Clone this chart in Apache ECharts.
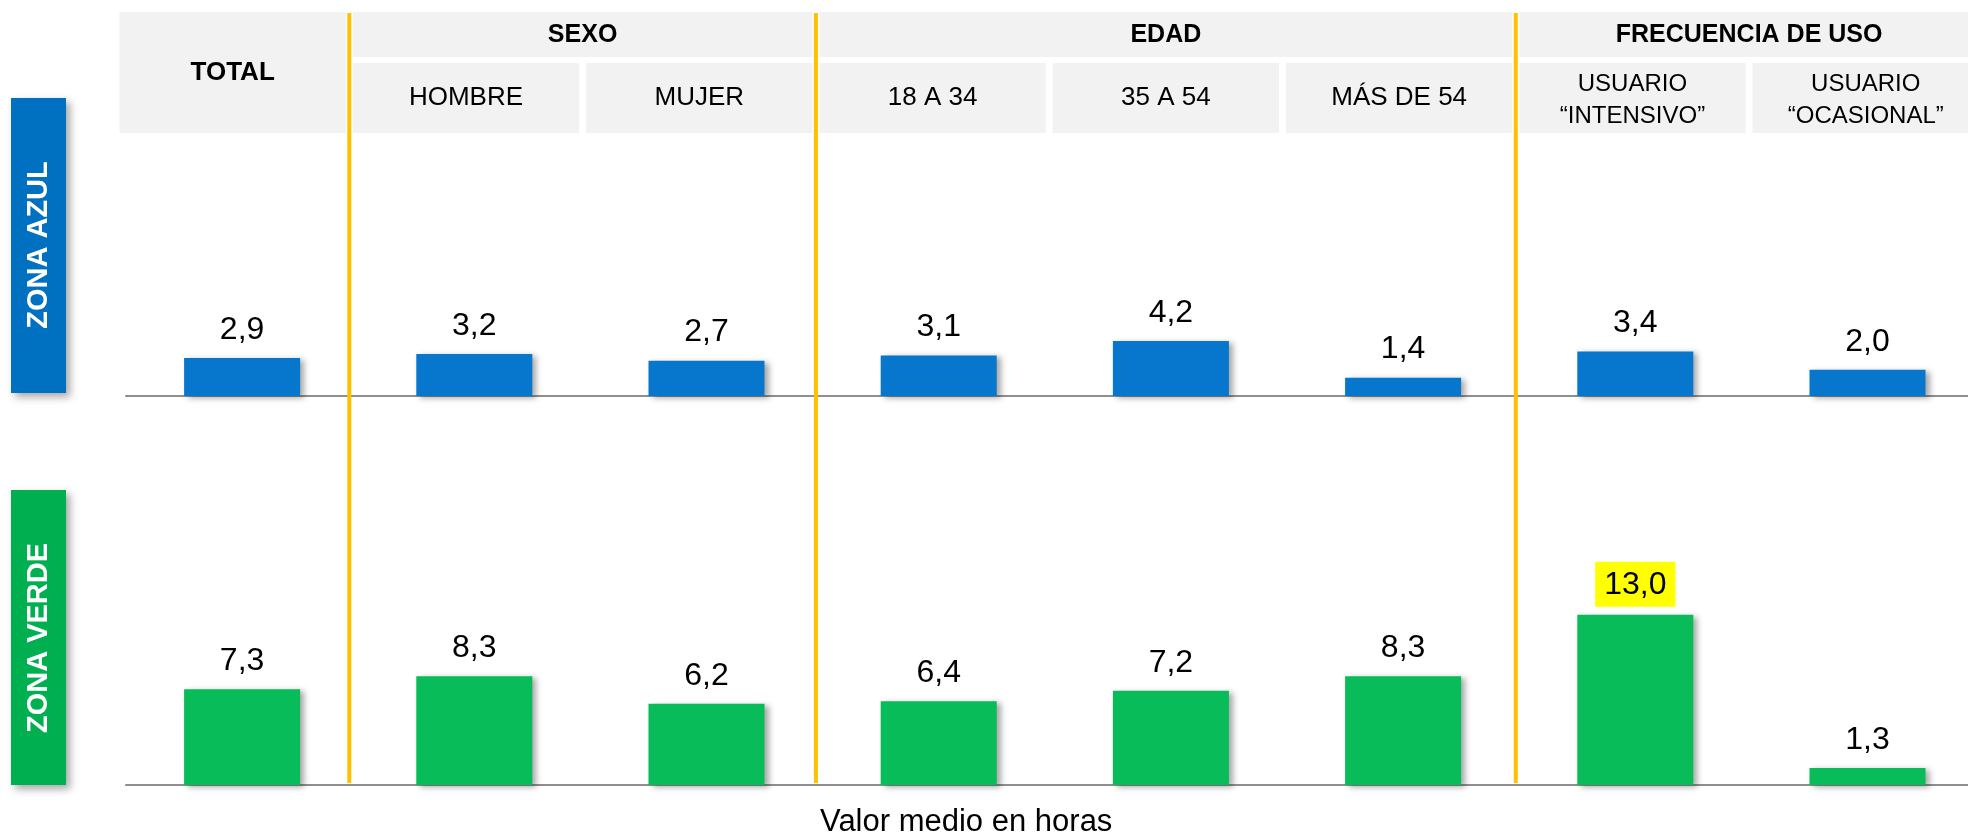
<!DOCTYPE html>
<html>
<head>
<meta charset="utf-8">
<title>Zona azul / zona verde</title>
<script src="https://cdn.jsdelivr.net/npm/echarts@6/dist/echarts.min.js"></script>
<style>
  html, body { margin: 0; padding: 0; background: #fff; }
  #chart { width: 1968px; height: 835px; }
</style>
</head>
<body>
<div id="chart"></div>
<script>
// datos
const categorias = ['TOTAL', 'HOMBRE', 'MUJER', '18 A 34', '35 A 54', 'MÁS DE 54', 'USUARIO\n“INTENSIVO”', 'USUARIO\n“OCASIONAL”'];
const grupos = ['SEXO', 'EDAD', 'FRECUENCIA DE USO'];
const grupoDesde = [1, 3, 6];
const grupoHasta = [2, 5, 7];
const separadores = [1, 3, 6];
const azul = [2.9, 3.2, 2.7, 3.1, 4.2, 1.4, 3.4, 2.0];
const verde = [7.3, 8.3, 6.2, 6.4, 7.2, 8.3, 13.0, 1.3];
const destacadoVerde = 6;

const FONT = '"Liberation Sans", Arial, sans-serif';
const chart = echarts.init(document.getElementById('chart'));

const fmt = p => p.value.toFixed(1).replace('.', ',');

function renderCelda(params, api) {
  const i = params.dataIndex;
  const cx = api.coord([i, 0])[0];
  const bw = api.size([1, 0])[0];
  const total = i === 0;
  const y0 = api.coord([0, total ? 0 : 51])[1];
  const y1 = api.coord([0, 121])[1];
  const dosLineas = categorias[i].indexOf('\n') >= 0;
  const font = total ? 'bold 26px ' + FONT : (dosLineas ? '24px ' : '26px ') + FONT;
  return {
    type: 'group',
    children: [
      {type: 'rect', shape: {x: cx - bw / 2 + 3.5, y: y0, width: bw - 7, height: y1 - y0}, style: {fill: '#F2F2F2'}},
      {type: 'text', x: cx, y: (y0 + y1) / 2 + (dosLineas ? 2 : 0),
        style: {text: categorias[i], font: font, fill: '#000', lineHeight: 32,
          align: 'center', verticalAlign: 'middle', textAlign: 'center', textVerticalAlign: 'middle'}}
    ]
  };
}

function renderGrupo(params, api) {
  const g = params.dataIndex;
  const bw = api.size([1, 0])[0];
  const x0 = api.coord([grupoDesde[g], 0])[0] - bw / 2 + 3.5;
  const x1 = api.coord([grupoHasta[g], 0])[0] + bw / 2 - 3.5;
  const y0 = api.coord([0, 0])[1];
  const y1 = api.coord([0, 45])[1];
  return {
    type: 'group',
    children: [
      {type: 'rect', shape: {x: x0, y: y0, width: x1 - x0, height: y1 - y0}, style: {fill: '#F2F2F2'}},
      {type: 'text', x: (x0 + x1) / 2, y: (y0 + y1) / 2 + 1,
        style: {text: grupos[g], font: 'bold 25px ' + FONT, fill: '#000',
          align: 'center', verticalAlign: 'middle', textAlign: 'center', textVerticalAlign: 'middle'}}
    ]
  };
}

function renderSeparador(params, api) {
  const k = separadores[params.dataIndex];
  const bw = api.size([1, 0])[0];
  const x = api.coord([k, 0])[0] - bw / 2;
  return {
    type: 'line',
    shape: {x1: x, y1: api.coord([0, 1])[1], x2: x, y2: api.coord([0, 771])[1]},
    style: {stroke: '#FFC000', lineWidth: 4}
  };
}

const ejeX = idx => ({
  gridIndex: idx, type: 'category', data: categorias,
  axisLine: {lineStyle: {color: '#8f8f8f', width: 2}},
  axisTick: {show: false}, axisLabel: {show: false}
});
const ejeY = idx => ({gridIndex: idx, type: 'value', min: 0, max: 20, show: false, splitLine: {show: false}});

const sombra = {shadowColor: 'rgba(0,0,0,0.35)', shadowBlur: 6, shadowOffsetX: 4, shadowOffsetY: 2};
const etiqueta = {
  show: true, position: 'top', distance: 12, formatter: fmt,
  fontSize: 32, fontFamily: FONT, color: '#000'
};

const option = {
  animation: false,
  backgroundColor: '#fff',
  title: {
    text: 'Valor medio en horas', left: 815, top: 802,
    textStyle: {fontSize: 31, fontWeight: 'normal', fontFamily: FONT, color: '#000'}
  },
  grid: [
    {left: 116, top: 12, width: 1866.4, height: 773, outerBoundsMode: 'none'},
    {left: 126, top: 134, width: 1857.6, height: 262, outerBoundsMode: 'none'},
    {left: 126, top: 523, width: 1857.6, height: 262, outerBoundsMode: 'none'}
  ],
  xAxis: [
    {gridIndex: 0, type: 'category', data: categorias, show: false},
    ejeX(1),
    ejeX(2)
  ],
  yAxis: [
    {gridIndex: 0, type: 'value', min: 0, max: 773, inverse: true, show: false, splitLine: {show: false}},
    ejeY(1),
    ejeY(2)
  ],
  graphic: [
    {type: 'rect', left: 11, top: 98, shape: {width: 55, height: 295},
      style: Object.assign({fill: '#0070C0'}, sombra, {shadowBlur: 8, shadowOffsetY: 4})},
    {type: 'text', x: 39, y: 245, rotation: Math.PI / 2,
      style: {text: 'ZONA AZUL', font: 'bold 29px ' + FONT, fill: '#fff',
        align: 'center', verticalAlign: 'middle', textAlign: 'center', textVerticalAlign: 'middle'}},
    {type: 'rect', left: 11, top: 490, shape: {width: 55, height: 295},
      style: Object.assign({fill: '#00B050'}, sombra, {shadowBlur: 8, shadowOffsetY: 4})},
    {type: 'text', x: 39, y: 638, rotation: Math.PI / 2,
      style: {text: 'ZONA VERDE', font: 'bold 29px ' + FONT, fill: '#fff',
        align: 'center', verticalAlign: 'middle', textAlign: 'center', textVerticalAlign: 'middle'}}
  ],
  series: [
    {
      name: 'celdas', type: 'custom', xAxisIndex: 0, yAxisIndex: 0, clip: false, silent: true,
      renderItem: renderCelda, data: categorias.map((c, i) => [i, 0])
    },
    {
      name: 'grupos', type: 'custom', xAxisIndex: 0, yAxisIndex: 0, clip: false, silent: true,
      renderItem: renderGrupo, data: grupos.map((g, i) => [grupoDesde[i], 0])
    },
    {
      name: 'separadores', type: 'custom', xAxisIndex: 0, yAxisIndex: 0, clip: false, silent: true, z: 5,
      renderItem: renderSeparador, data: separadores.map(k => [k, 0])
    },
    {
      name: 'Zona azul', type: 'bar', xAxisIndex: 1, yAxisIndex: 1, barWidth: 116,
      itemStyle: Object.assign({color: '#0777CE'}, sombra),
      label: etiqueta,
      data: azul
    },
    {
      name: 'Zona verde', type: 'bar', xAxisIndex: 2, yAxisIndex: 2, barWidth: 116,
      itemStyle: Object.assign({color: '#08BC59'}, sombra),
      label: etiqueta,
      data: verde.map((v, i) => i === destacadoVerde
        ? {value: v, label: {backgroundColor: '#FFFF00', padding: [7, 9, 6, 9], distance: 8}}
        : v)
    }
  ]
};

chart.setOption(option);
</script>
</body>
</html>
